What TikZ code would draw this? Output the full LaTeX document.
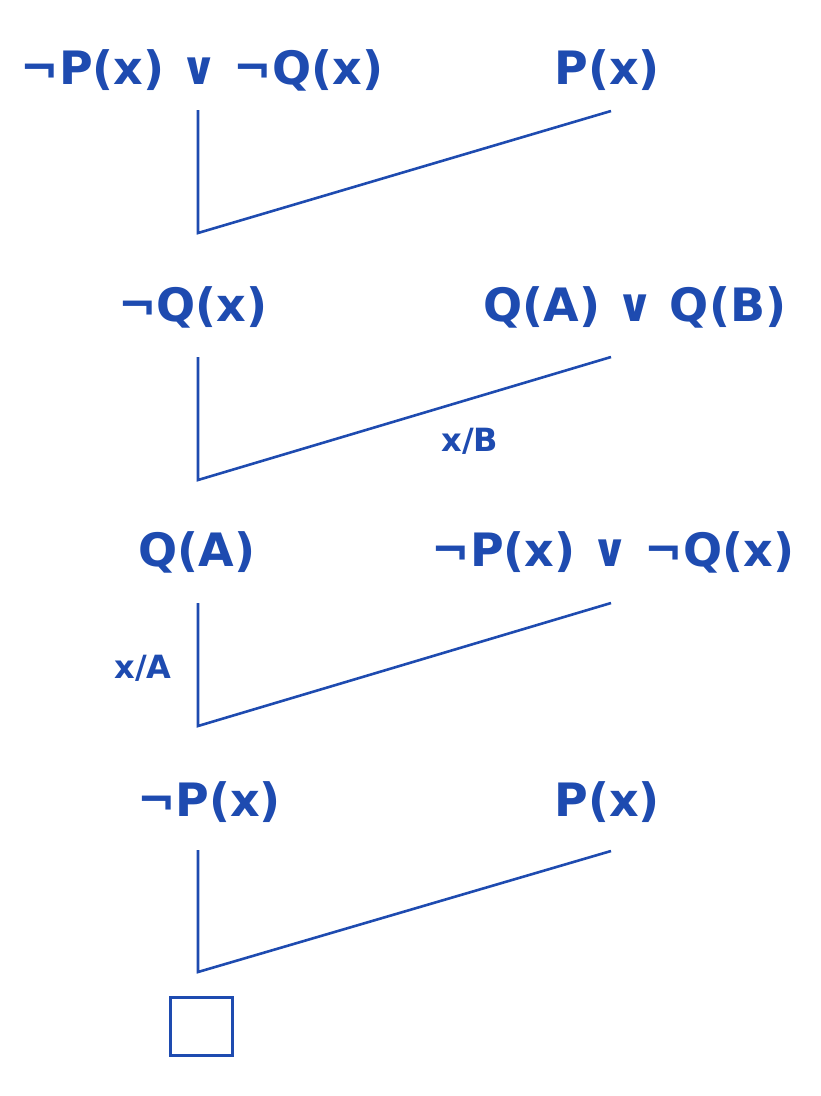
\documentclass[tikz,border=0pt]{standalone}
\usepackage{fontspec}
\setmainfont{DejaVu Sans}
\definecolor{ink}{HTML}{1E4BB0}
\begin{document}
\begin{tikzpicture}[x=1pt,y=-1pt,
  big/.style={text=ink,font=\bfseries\fontsize{46}{52}\selectfont,inner sep=0pt,anchor=center},
  small/.style={text=ink,font=\bfseries\fontsize{32}{36}\selectfont,inner sep=0pt,anchor=center},
  wire/.style={draw=ink,line width=2.6pt,line join=miter},
  emptybox/.style={draw=ink,line width=3pt,minimum width=62pt,minimum height=58pt,inner sep=0pt}]
\useasboundingbox (0,0) rectangle (820,1096);
% row 1
\node[big] (a1) at (202,70) {¬P(x) ∨ ¬Q(x)};
\node[big] (b1) at (607,70) {P(x)};
\coordinate (t1) at (198,110);
\coordinate (k1) at (198,233);
\coordinate (e1) at (611,111);
\draw[wire] (t1) -- (k1) -- (e1);
% row 2
\node[big] (a2) at (193,307) {¬Q(x)};
\node[big] (b2) at (635,307) {Q(A) ∨ Q(B)};
\coordinate (t2) at (198,357);
\coordinate (k2) at (198,480);
\coordinate (e2) at (611,357);
\draw[wire] (t2) -- (k2) -- (e2);
\node[small] (l2) at (470,441) {x/B};
% row 3
\node[big] (a3) at (197,552) {Q(A)};
\node[big] (b3) at (613,552) {¬P(x) ∨ ¬Q(x)};
\coordinate (t3) at (198,603);
\coordinate (k3) at (198,726);
\coordinate (e3) at (611,603);
\draw[wire] (t3) -- (k3) -- (e3);
\node[small] (l3) at (143,668) {x/A};
% row 4
\node[big] (a4) at (209,802) {¬P(x)};
\node[big] (b4) at (607,802) {P(x)};
\coordinate (t4) at (198,850);
\coordinate (k4) at (198,972);
\coordinate (e4) at (611,851);
\draw[wire] (t4) -- (k4) -- (e4);
% empty clause
\node[emptybox] (box) at (201.5,1026.5) {};
\end{tikzpicture}
\end{document}
